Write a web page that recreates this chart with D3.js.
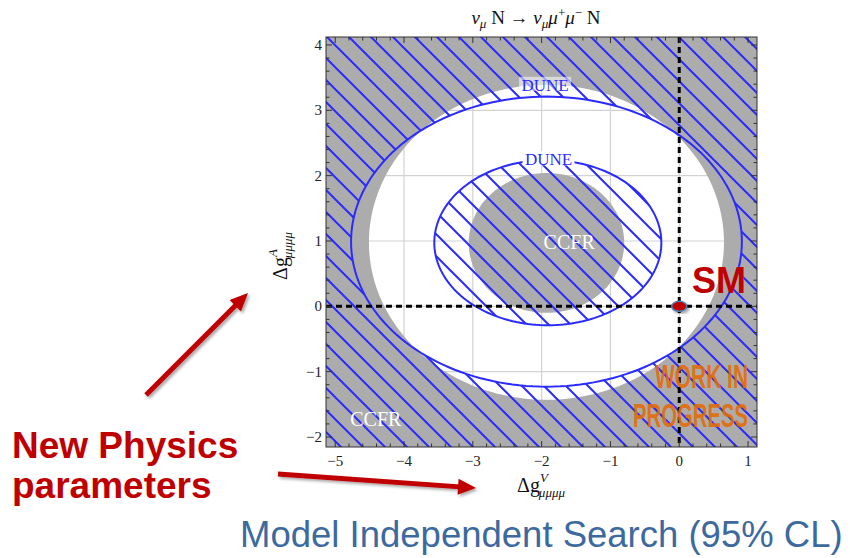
<!DOCTYPE html>
<html><head><meta charset="utf-8">
<script src="https://cdn.jsdelivr.net/npm/d3@7"></script>
<style>html,body{margin:0;padding:0;background:#fff;}svg{display:block;}</style>
</head><body>
<script>
// ---- data ----
const xTicks = [-5, -4, -3, -2, -1, 0, 1];
const yTicks = [-2, -1, 0, 1, 2, 3, 4];
const regionNames = ["CCFR outer", "DUNE outer", "DUNE inner", "CCFR inner"];
const centerX = [-1.93, -1.93, -1.91, -1.93];
const centerY = [0.98, 0.99, 0.975, 0.97];
const semiX = [2.58, 2.84, 1.65, 1.13];
const semiY = [2.41, 2.22, 1.265, 1.07];
const smPoint = [0, 0];
const labelNames = ["DUNE", "DUNE", "CCFR", "CCFR"];
const labelX = [-1.95, -1.9, -1.6, -4.41];
const labelY = [3.39, 2.25, 0.98, -1.72];

const W = 850, H = 558;
const svg = d3.select("body").append("svg").attr("width", W).attr("height", H);
const L = 326, R = 757, T = 37, B = 447;
const x = d3.scaleLinear().domain([-5.134, 1.13]).range([L, R]);
const y = d3.scaleLinear().domain([4.122, -2.153]).range([T, B]);
const serif = "'Liberation Serif','DejaVu Serif',serif";
const blue = "#2b2bff";

const defs = svg.append("defs");
defs.append("clipPath").attr("id", "clip").append("rect")
  .attr("x", L).attr("y", T).attr("width", R - L).attr("height", B - T);
const pat = defs.append("pattern").attr("id", "hatch").attr("patternUnits", "userSpaceOnUse")
  .attr("width", 22).attr("height", 22).attr("x", 4).attr("y", 0);
pat.append("path").attr("d", "M-2,-2 L24,24 M-13,9 L2,24 M9,-13 L24,2")
  .attr("stroke", blue).attr("stroke-width", 2).attr("fill", "none");
const sh = defs.append("filter").attr("id", "shadow").attr("x", "-20%").attr("y", "-20%").attr("width", "140%").attr("height", "140%");
sh.append("feDropShadow").attr("dx", 2).attr("dy", 2).attr("stdDeviation", 1.8).attr("flood-color", "#000").attr("flood-opacity", 0.35);

function ellipsePath(i) {
  const angles = d3.range(0, 361, 2).map(d => d * Math.PI / 180);
  return d3.line().x(a => x(centerX[i] + semiX[i] * Math.cos(a))).y(a => y(centerY[i] + semiY[i] * Math.sin(a)))(angles) + "Z";
}
const framePath = `M${L},${T}H${R}V${B}H${L}Z`;

const plot = svg.append("g").attr("clip-path", "url(#clip)");
plot.append("rect").attr("x", L).attr("y", T).attr("width", R - L).attr("height", B - T).attr("fill", "#fff");
// grid
plot.selectAll(".gx").data(xTicks).join("line").attr("x1", d => x(d)).attr("x2", d => x(d))
  .attr("y1", T).attr("y2", B).attr("stroke", "#d2d2d2").attr("stroke-width", 1.2);
plot.selectAll(".gy").data(yTicks).join("line").attr("y1", d => y(d)).attr("y2", d => y(d))
  .attr("x1", L).attr("x2", R).attr("stroke", "#d2d2d2").attr("stroke-width", 1.2);
// CCFR excluded (gray)
plot.append("path").attr("d", framePath + ellipsePath(0)).attr("fill-rule", "evenodd").attr("fill", "#acacac");
plot.append("path").attr("d", ellipsePath(3)).attr("fill", "#acacac");
// DUNE excluded (hatch)
plot.append("path").attr("d", framePath + ellipsePath(1)).attr("fill-rule", "evenodd").attr("fill", "url(#hatch)");
plot.append("path").attr("d", ellipsePath(2)).attr("fill", "url(#hatch)");
// DUNE contours
plot.append("path").attr("d", ellipsePath(1)).attr("fill", "none").attr("stroke", blue).attr("stroke-width", 2);
plot.append("path").attr("d", ellipsePath(2)).attr("fill", "none").attr("stroke", blue).attr("stroke-width", 2);

// region labels
labelNames.forEach((t, i) => {
  const isDune = t === "DUNE";
  if (isDune) {
    plot.append("rect").attr("x", x(labelX[i]) - 26).attr("y", y(labelY[i]) - 8).attr("width", 52).attr("height", 14)
      .attr("fill", "#fff").attr("opacity", i === 0 ? 0.55 : 1);
  }
  plot.append("text").attr("x", x(labelX[i])).attr("y", y(labelY[i]) + (isDune ? 6 : 7))
    .attr("text-anchor", "middle").attr("font-family", serif).attr("font-size", isDune ? 17 : 20)
    .attr("fill", isDune ? blue : "#fff").text(t);
});

// dashed SM lines
plot.append("line").attr("x1", L).attr("x2", R).attr("y1", y(0)).attr("y2", y(0))
  .attr("stroke", "#000").attr("stroke-width", 3).attr("stroke-dasharray", "6,4");
plot.append("line").attr("x1", x(0)).attr("x2", x(0)).attr("y1", T).attr("y2", B)
  .attr("stroke", "#000").attr("stroke-width", 3).attr("stroke-dasharray", "6,4");

// frame + ticks
const fr = svg.append("g");
fr.append("rect").attr("x", L).attr("y", T).attr("width", R - L).attr("height", B - T)
  .attr("fill", "none").attr("stroke", "#333").attr("stroke-width", 1);
const minorX = d3.range(-5.0, 1.2, 0.2).filter(v => v >= -5.13 && v <= 1.13);
const minorY = d3.range(-2.0, 4.2, 0.2).filter(v => v >= -2.15 && v <= 4.12);
minorX.forEach(v => {
  const maj = Math.abs(v - Math.round(v)) < 1e-6, len = maj ? 6 : 3.5;
  fr.append("line").attr("x1", x(v)).attr("x2", x(v)).attr("y1", B).attr("y2", B - len).attr("stroke", "#333");
  fr.append("line").attr("x1", x(v)).attr("x2", x(v)).attr("y1", T).attr("y2", T + len).attr("stroke", "#333");
});
minorY.forEach(v => {
  const maj = Math.abs(v - Math.round(v)) < 1e-6, len = maj ? 6 : 3.5;
  fr.append("line").attr("y1", y(v)).attr("y2", y(v)).attr("x1", L).attr("x2", L + len).attr("stroke", "#333");
  fr.append("line").attr("y1", y(v)).attr("y2", y(v)).attr("x1", R).attr("x2", R - len).attr("stroke", "#333");
});
const fmt = d => d < 0 ? "\u2212" + Math.abs(d) : String(d);
fr.selectAll(".xl").data(xTicks).join("text").attr("x", d => x(d)).attr("y", 466).attr("text-anchor", "middle")
  .attr("font-family", serif).attr("font-size", 15).attr("fill", "#222").text(fmt);
fr.selectAll(".yl").data(yTicks).join("text").attr("x", 322).attr("y", d => y(d) + 5).attr("text-anchor", "end")
  .attr("font-family", serif).attr("font-size", 15).attr("fill", "#222").text(fmt);

// axis labels
function axisLabel(sel, sup) {
  sel.append("tspan").text("\u0394g");
  sel.append("tspan").attr("font-size", 13).attr("font-style", "italic").attr("dy", -10).text(sup);
  sel.append("tspan").attr("font-size", 13).attr("font-style", "italic").attr("dx", -9).attr("dy", 15).text("\u03bc\u03bc\u03bc\u03bc");
}
const xl = svg.append("text").attr("x", 541).attr("y", 492).attr("text-anchor", "middle")
  .attr("font-family", serif).attr("font-size", 20).attr("fill", "#111");
axisLabel(xl, "V");
const yl = svg.append("text").attr("transform", "translate(287,256) rotate(-90)").attr("text-anchor", "middle")
  .attr("font-family", serif).attr("font-size", 20).attr("fill", "#111");
axisLabel(yl, "A");

// title
const tt = svg.append("text").attr("x", 536).attr("y", 24).attr("text-anchor", "middle")
  .attr("font-family", serif).attr("font-size", 19).attr("fill", "#111");
tt.append("tspan").attr("font-style", "italic").text("\u03bd");
tt.append("tspan").attr("font-style", "italic").attr("font-size", 13).attr("dy", 4).text("\u03bc");
tt.append("tspan").attr("dy", -4).text(" N \u2192 ");
tt.append("tspan").attr("font-style", "italic").text("\u03bd");
tt.append("tspan").attr("font-style", "italic").attr("font-size", 13).attr("dy", 4).text("\u03bc");
tt.append("tspan").attr("font-style", "italic").attr("dy", -4).text("\u03bc");
tt.append("tspan").attr("font-size", 13).attr("dy", -7).text("+");
tt.append("tspan").attr("font-style", "italic").attr("dy", 7).text("\u03bc");
tt.append("tspan").attr("font-size", 13).attr("dy", -7).text("\u2212");
tt.append("tspan").attr("dy", 7).text(" N");

// SM point
svg.append("ellipse").attr("cx", x(smPoint[0])).attr("cy", y(smPoint[1])).attr("rx", 7.5).attr("ry", 5)
  .attr("fill", "#c00000").attr("stroke", "#4f7fb5").attr("stroke-width", 1.5).attr("filter", "url(#shadow)");
svg.append("text").attr("x", 692).attr("y", 293).attr("font-family", "'Liberation Sans',Arial,sans-serif")
  .attr("font-weight", "bold").attr("font-size", 36).attr("fill", "#c00000").text("SM");

// Work in progress
const wipFont = "'Liberation Sans Narrow','Liberation Sans',sans-serif";
[["WORK IN", 388, 93], ["PROGRESS", 427, 115]].forEach(([t, by, len]) => {
  svg.append("text").attr("x", 748).attr("y", by).attr("text-anchor", "end").attr("font-family", wipFont)
    .attr("font-weight", "bold").attr("font-size", 33).attr("fill", "#e36c0a").attr("fill-opacity", 0.92)
    .attr("textLength", len).attr("lengthAdjust", "spacingAndGlyphs").text(t);
});

// arrows
function arrow(x1, y1, x2, y2) {
  const a = Math.atan2(y2 - y1, x2 - x1), hl = 18, hw = 8;
  const bx = x2 - hl * Math.cos(a), by = y2 - hl * Math.sin(a);
  const g = svg.append("g").attr("filter", "url(#shadow)");
  g.append("line").attr("x1", x1).attr("y1", y1).attr("x2", bx + 2 * Math.cos(a)).attr("y2", by + 2 * Math.sin(a))
    .attr("stroke", "#c00000").attr("stroke-width", 5);
  g.append("path").attr("d", `M${x2},${y2}L${bx + hw * Math.sin(a)},${by - hw * Math.cos(a)}L${bx - hw * Math.sin(a)},${by + hw * Math.cos(a)}Z`)
    .attr("fill", "#c00000");
}
arrow(146, 395, 248, 293);
arrow(278, 474, 476, 488);

// annotations
const sans = "'Liberation Sans',Arial,sans-serif";
svg.append("text").attr("x", 12).attr("y", 458).attr("font-family", sans).attr("font-weight", "bold")
  .attr("font-size", 37).attr("fill", "#c00000").text("New Physics");
svg.append("text").attr("x", 12).attr("y", 498).attr("font-family", sans).attr("font-weight", "bold")
  .attr("font-size", 37).attr("fill", "#c00000").text("parameters");
svg.append("text").attr("x", 240).attr("y", 547).attr("font-family", sans)
  .attr("font-size", 36.5).attr("fill", "#3d6a9e").text("Model Independent Search (95% CL)");
</script>
</body></html>
